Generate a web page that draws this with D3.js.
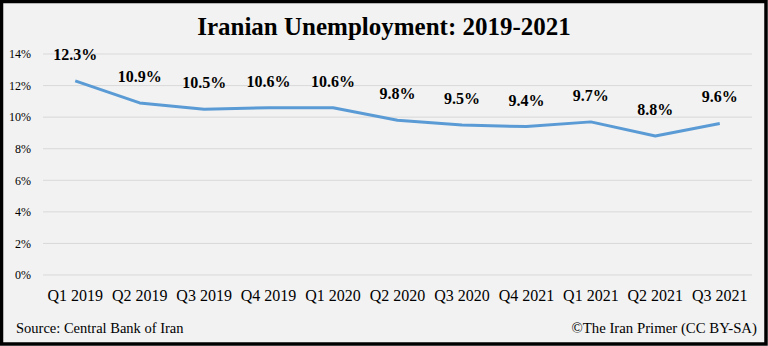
<!DOCTYPE html>
<html><head><meta charset="utf-8">
<script src="https://cdn.jsdelivr.net/npm/d3@7"></script>
<style>html,body{margin:0;padding:0;background:#fff;}svg{display:block;}</style>
</head><body>
<script>
const categories = ["Q1 2019","Q2 2019","Q3 2019","Q4 2019","Q1 2020","Q2 2020","Q3 2020","Q4 2021","Q1 2021","Q2 2021","Q3 2021"];
const values = [12.3,10.9,10.5,10.6,10.6,9.8,9.5,9.4,9.7,8.8,9.6];
const yTicks = [0,2,4,6,8,10,12,14];
const title = "Iranian Unemployment: 2019-2021";
const source = "Source: Central Bank of Iran";
const credit = "\u00A9The Iran Primer (CC BY-SA)";

const W = 768, H = 346;
const svg = d3.select("body").append("svg").attr("width", W).attr("height", H);
svg.append("rect").attr("x",1.5).attr("y",1.5).attr("width",W-3.5).attr("height",H-3.5)
  .attr("fill","#f2f2f2").attr("stroke","#000").attr("stroke-width",3.5);

const serif = "'Liberation Serif','Times New Roman',serif";
svg.append("text").attr("x",384).attr("y",35).attr("text-anchor","middle")
  .attr("font-family",serif).attr("font-weight","bold").attr("font-size",25).attr("fill","#000").text(title);

const x = d3.scaleBand().domain(categories).range([43,752]);
const y = d3.scaleLinear().domain([0,14]).range([275,54]);

const g = svg.append("g");
g.selectAll("line.grid").data(yTicks).join("line").attr("class","grid")
  .attr("x1",43).attr("x2",752).attr("y1",d=>y(d)).attr("y2",d=>y(d))
  .attr("stroke","#d9d9d9").attr("stroke-width",1);

const yAxis = d3.axisLeft(y).tickValues(yTicks).tickFormat(d=>d+"%").tickSize(0).tickPadding(0);
const ya = svg.append("g").attr("transform","translate(31,0)").call(yAxis);
ya.select(".domain").remove();
ya.selectAll("text").attr("font-family",serif).attr("font-size",12).attr("fill","#000").attr("dy","0.32em");

const xAxis = d3.axisBottom(x).tickSize(0).tickPadding(0);
const xa = svg.append("g").attr("transform","translate(0,290)").call(xAxis);
xa.select(".domain").remove();
xa.selectAll("text").attr("font-family",serif).attr("font-size",16).attr("fill","#000").attr("dy","0.71em");

const line = d3.line().x((d,i)=>x(categories[i])+x.bandwidth()/2).y(d=>y(d));
svg.append("path").datum(values).attr("d",line).attr("fill","none")
  .attr("stroke","#5b9bd5").attr("stroke-width",3).attr("stroke-linejoin","round");

svg.selectAll("text.lbl").data(values).join("text").attr("class","lbl")
  .attr("x",(d,i)=>x(categories[i])+x.bandwidth()/2).attr("y",d=>y(d)-21)
  .attr("text-anchor","middle").attr("font-family",serif).attr("font-weight","bold")
  .attr("font-size",16).attr("fill","#000").text(d=>d.toFixed(1)+"%");

svg.append("text").attr("x",16).attr("y",333).attr("font-family",serif).attr("font-size",14.5).attr("fill","#000").text(source);
svg.append("text").attr("x",757).attr("y",333).attr("text-anchor","end").attr("font-family",serif).attr("font-size",14.8).attr("fill","#000").text(credit);
</script>
</body></html>
